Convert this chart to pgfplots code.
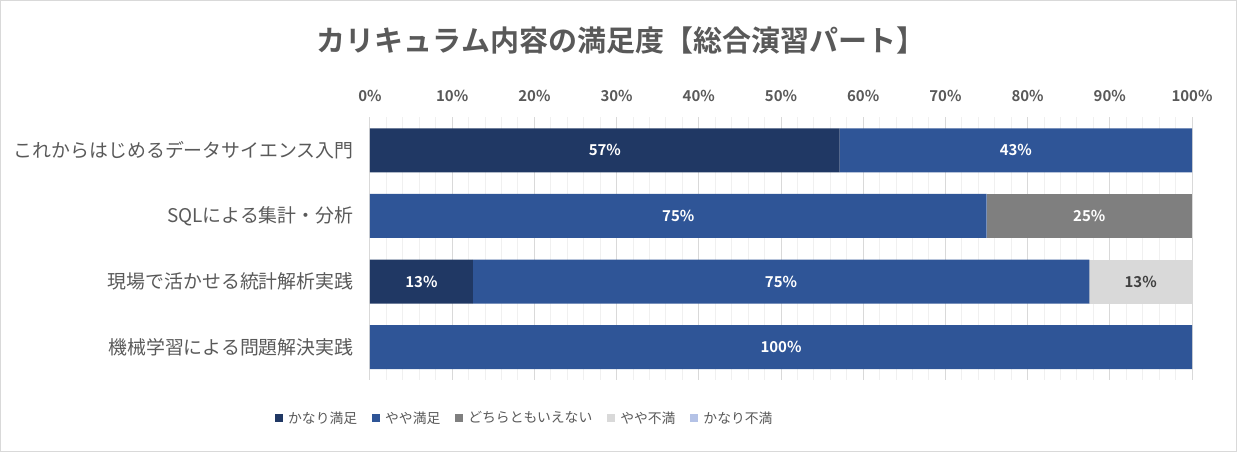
\documentclass[border=0pt]{standalone}
\usepackage{fontspec}
\setmainfont{Noto Sans CJK JP}[BoldFont={Noto Sans CJK JP Bold}]
\usepackage{pgfplots}
\usepackage{pgfplotstable}
\pgfplotsset{compat=1.18}

\definecolor{cA}{HTML}{203864}
\definecolor{cB}{HTML}{2F5597}
\definecolor{cC}{HTML}{7F7F7F}
\definecolor{cD}{HTML}{D9D9D9}
\definecolor{cE}{HTML}{B4C2E6}
\definecolor{txt}{HTML}{595959}
\definecolor{dark}{HTML}{404040}

% rows: 0 = top bar
\pgfplotstableread{
y a b c d e la lb lc ld le
0 57.14 42.86 0 0 0 57\% 43\% {} {} {}
1 0 75 25 0 0 {} 75\% 25\% {} {}
2 12.5 75 0 12.5 0 13\% 75\% {} 13\% {}
3 0 100 0 0 0 {} 100\% {} {} {}
}\sat

\begin{document}
\begin{tikzpicture}
\path[use as bounding box] (0pt,0pt) rectangle (1237pt,452pt);
\draw[cD] (0.5pt,0.5pt) rectangle (1236.5pt,451.5pt);
\node[font=\bfseries\fontsize{29}{34}\selectfont, text=txt] at (621pt,411pt)
  {カリキュラム内容の満足度【総合演習パート】};
\begin{axis}[
  at={(370pt,72pt)}, anchor=south west,
  scale only axis, width=822pt, height=262.5pt,
  xbar stacked, bar width=44pt,
  xmin=0, xmax=100, ymin=-0.5, ymax=3.5, y dir=reverse,
  ytick={0,1,2,3},
  yticklabels={これからはじめるデータサイエンス入門, SQLによる集計・分析\ , 現場で活かせる統計解析実践, 機械学習による問題解決実践},
  xtick={0,10,...,100}, minor x tick num=4,
  xticklabel pos=upper,
  xticklabel={\pgfmathprintnumber{\tick}\%},
  /pgf/number format/assume math mode=true,
  xticklabel style={font=\bfseries\fontsize{15}{18}\selectfont, text=txt},
  xticklabel shift=12pt,
  yticklabel style={font=\fontsize{18.9}{22}\selectfont, text=txt},
  yticklabel shift=13pt,
  axis line style={draw=none}, tick style={draw=none},
  xmajorgrids, xminorgrids,
  major grid style={cD, line width=1pt},
  minor grid style={color=black!6, line width=1pt},
  point meta=explicit symbolic,
  nodes near coords={\pgfplotspointmeta},
  every node near coord/.append style={anchor=center,
    font=\bfseries\fontsize{15}{18}\selectfont, text=white},
  legend columns=5,
  legend image code/.code={\fill[#1] (0pt,-4pt) rectangle (8pt,4pt); \path (11pt,0pt);},
  legend style={draw=none, fill=none, inner sep=0pt,
    at={(-0.1156,-0.1448)}, anchor=west,
    font=\fontsize{13.8}{16}\selectfont, text=txt,
    /tikz/every even column/.append style={column sep=13pt}},
]
\addplot[fill=cA, draw=none] table[x=a, y=y, meta=la]{\sat};
\addlegendentry{かなり満足}
\addplot[fill=cB, draw=none] table[x=b, y=y, meta=lb]{\sat};
\addlegendentry{やや満足}
\addplot[fill=cC, draw=none] table[x=c, y=y, meta=lc]{\sat};
\addlegendentry{どちらともいえない}
\addplot[fill=cD, draw=none, every node near coord/.append style={text=dark}] table[x=d, y=y, meta=ld]{\sat};
\addlegendentry{やや不満}
\addplot[fill=cE, draw=none] table[x=e, y=y, meta=le]{\sat};
\addlegendentry{かなり不満}
\end{axis}
\end{tikzpicture}
\end{document}
